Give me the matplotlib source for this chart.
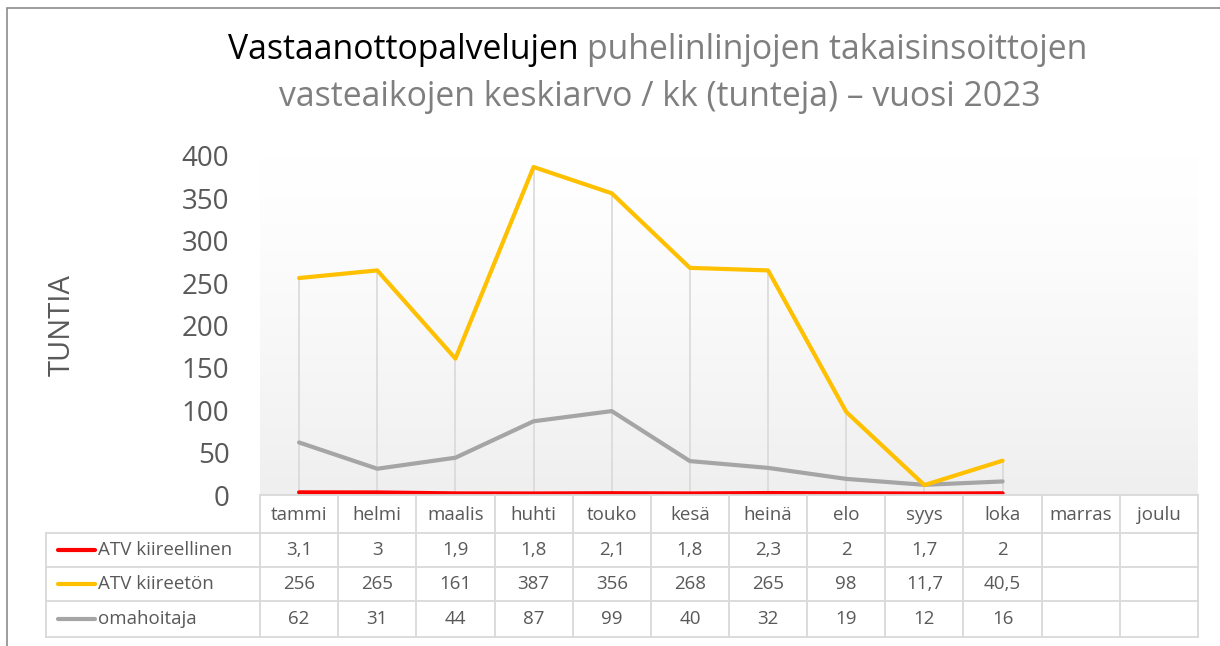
import numpy as np
import matplotlib
matplotlib.use("Agg")
import matplotlib.pyplot as plt
from matplotlib.lines import Line2D
from matplotlib.patches import Rectangle

# =========================
# DATA
# =========================
months = ["tammi", "helmi", "maalis", "huhti", "touko", "kesä",
          "heinä", "elo", "syys", "loka", "marras", "joulu"]

atv_kiireellinen = [3.1, 3, 1.9, 1.8, 2.1, 1.8, 2.3, 2, 1.7, 2]
atv_kiireeton = [256, 265, 161, 387, 356, 268, 265, 98, 11.7, 40.5]
omahoitaja = [62, 31, 44, 87, 99, 40, 32, 19, 12, 16]

series_names = ["ATV kiireellinen", "ATV kiireetön", "omahoitaja"]
series_data = [atv_kiireellinen, atv_kiireeton, omahoitaja]
series_colors = ["#FF0000", "#FFC000", "#A5A5A5"]

y_ticks = [0, 50, 100, 150, 200, 250, 300, 350, 400]

# =========================
# LAYOUT (pixels)
# =========================
W, H = 1220, 646
AX_L, AX_R = 260, 1198
AX_T, AX_B = 156, 495
ROW_Y = [495, 533, 567, 601, 637]
TABLE_L = 46
TEXT_COLOR = "#595959"
GRID_COLOR = "#d9d9d9"

plt.rcParams['font.family'] = ['Open Sans', 'DejaVu Sans']


def fx(px):
    return px / W


def fy(py):
    return 1 - py / H


fig = plt.figure(figsize=(W / 100, H / 100), dpi=100)

# outer chart border
fig.add_artist(Rectangle((fx(7), fy(700)), fx(1300), fy(8) - fy(700),
                         transform=fig.transFigure, fill=False,
                         edgecolor="#8c8c8c", lw=1.2))

ax = fig.add_axes([fx(AX_L), fy(AX_B), fx(AX_R - AX_L), fy(AX_T) - fy(AX_B)])

n = len(months)
ax.set_xlim(-0.5, n - 0.5)

# gradient background: white at top -> light grey at bottom
grad = np.linspace(0, 1, 256).reshape(-1, 1)
top_c = np.array([1.0, 1.0, 1.0])
bot_c = np.array([0.937, 0.937, 0.937])
img = top_c + (bot_c - top_c) * grad ** 1.3
ax.imshow(img.reshape(256, 1, 3), extent=[-0.5, n - 0.5, 0, 400],
          aspect="auto", zorder=0, origin="upper")
ax.set_ylim(0, 400)

# drop lines
n_data = len(atv_kiireeton)
x = np.arange(n_data)
tops = [max(s[i] for s in series_data) for i in range(n_data)]
ax.vlines(x, 0, tops, color=GRID_COLOR, lw=1.2, zorder=1)

# series
for vals, col in zip([omahoitaja, atv_kiireeton, atv_kiireellinen],
                     [series_colors[2], series_colors[1], series_colors[0]]):
    ax.plot(x, vals, color=col, lw=3, solid_capstyle="round", zorder=3)

for s in ax.spines.values():
    s.set_visible(False)
ax.set_xticks([])
ax.set_yticks(y_ticks)
ax.tick_params(axis="y", length=0, labelsize=20, labelcolor=TEXT_COLOR, pad=22)

fig.text(fx(62), fy(325), "TUNTIA", rotation=90, ha="center", va="center",
         fontsize=21, color=TEXT_COLOR)

# title
TITLE_FS = 24.3
t1 = fig.text(fx(228), fy(50), "Vastaanottopalvelujen ", fontsize=TITLE_FS,
              color="black", ha="left", va="center")
fig.canvas.draw()
bb = t1.get_window_extent()
fig.text(bb.x1 / W, fy(50), "puhelinlinjojen takaisinsoittojen", fontsize=TITLE_FS,
         color="#7f7f7f", ha="left", va="center")
fig.text(fx(660), fy(97), "vasteaikojen keskiarvo / kk (tunteja) – vuosi 2023",
         fontsize=TITLE_FS, color="#7f7f7f", ha="center", va="center")

# =========================
# DATA TABLE
# =========================
col_w = (AX_R - AX_L) / n


def hline(y, x0, x1):
    fig.add_artist(Line2D([fx(x0), fx(x1)], [fy(y), fy(y)],
                          transform=fig.transFigure, color=GRID_COLOR, lw=1.3))


def vline(xp, y0, y1):
    fig.add_artist(Line2D([fx(xp), fx(xp)], [fy(y0), fy(y1)],
                          transform=fig.transFigure, color=GRID_COLOR, lw=1.3))


hline(ROW_Y[0], AX_L, AX_R)
for y in ROW_Y[1:]:
    hline(y, TABLE_L, AX_R)
vline(TABLE_L, ROW_Y[1], ROW_Y[-1])
for i in range(n + 1):
    vline(AX_L + i * col_w, ROW_Y[0], ROW_Y[-1])

TABLE_FS = 13.5

# header
for i, m in enumerate(months):
    fig.text(fx(AX_L + (i + 0.5) * col_w), fy((ROW_Y[0] + ROW_Y[1]) / 2 + 1), m,
             ha="center", va="center", fontsize=TABLE_FS, color=TEXT_COLOR)


def fmt(v):
    s = f"{v:g}"
    return s.replace(".", ",")


for r, (name, vals, col) in enumerate(zip(series_names, series_data, series_colors)):
    yc = (ROW_Y[r + 1] + ROW_Y[r + 2]) / 2
    fig.add_artist(Line2D([fx(58), fx(95)], [fy(yc), fy(yc)],
                          transform=fig.transFigure, color=col, lw=3,
                          solid_capstyle="round"))
    fig.text(fx(98), fy(yc), name, ha="left", va="center", fontsize=TABLE_FS,
             color=TEXT_COLOR)
    for i, v in enumerate(vals):
        fig.text(fx(AX_L + (i + 0.5) * col_w), fy(yc), fmt(v),
                 ha="center", va="center", fontsize=TABLE_FS, color=TEXT_COLOR)

fig.savefig("out.png", dpi=100)
